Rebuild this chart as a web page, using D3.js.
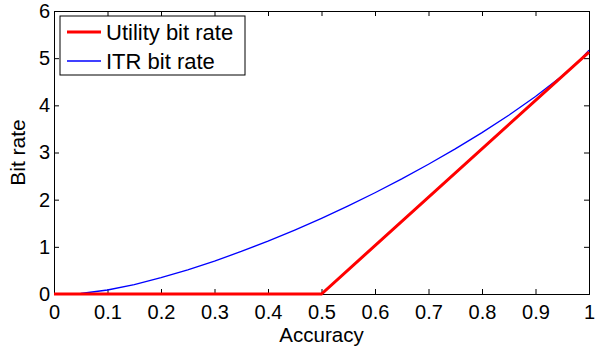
<!DOCTYPE html>
<html>
<head>
<meta charset="utf-8">
<script src="https://cdn.jsdelivr.net/npm/d3@7"></script>
<style>
  body { margin: 0; background: #fff; }
  text { font-family: "Liberation Sans", Arial, sans-serif; fill: #000; }
</style>
</head>
<body>
<script>
// chart data
var accuracy = [0.028, 0.05, 0.1, 0.15, 0.2, 0.25, 0.3, 0.35, 0.4, 0.45, 0.5,
  0.55, 0.6, 0.65, 0.7, 0.75, 0.8, 0.85, 0.9, 0.95, 0.98, 1];
var itrRate = [0, 0.011, 0.085, 0.2, 0.345, 0.512, 0.698, 0.902, 1.121, 1.356, 1.605,
  1.869, 2.147, 2.44, 2.75, 3.076, 3.422, 3.791, 4.188, 4.627, 4.926, 5.17];
var utilityAcc = [0, 0.5, 1];
var utilityRate = [0, 0, 5.13];
var xTicks = [0, 0.1, 0.2, 0.3, 0.4, 0.5, 0.6, 0.7, 0.8, 0.9, 1];
var yTicks = [0, 1, 2, 3, 4, 5, 6];
var seriesNames = ["Utility bit rate", "ITR bit rate"];
var seriesColors = ["#ff0000", "#0000ff"];

var svgWidth = 595, svgHeight = 351;
var margin = { top: 11, right: 6, bottom: 57, left: 54 };
var width = svgWidth - margin.left - margin.right;
var height = svgHeight - margin.top - margin.bottom;

var svg = d3.select("body").append("svg")
  .attr("width", svgWidth)
  .attr("height", svgHeight);

var chartGroup = svg.append("g")
  .attr("transform", `translate(${margin.left}, ${margin.top})`);

var x = d3.scaleLinear().domain([0, 1]).range([0, width]);
var y = d3.scaleLinear().domain([0, 6]).range([height, 0]);

// axes with inward ticks (matlab style box)
var fmt = d => String(d);
var bottomAxis = d3.axisBottom(x).tickValues(xTicks).tickSize(-5).tickPadding(11).tickFormat(fmt);
var topAxis = d3.axisTop(x).tickValues(xTicks).tickSize(-5).tickFormat("");
var leftAxis = d3.axisLeft(y).tickValues(yTicks).tickSize(-5).tickPadding(4).tickFormat(fmt);
var rightAxis = d3.axisRight(y).tickValues(yTicks).tickSize(-5).tickFormat("");

function styleAxis(g) {
  g.attr("font-size", null).attr("font-family", null);
  g.select(".domain").attr("stroke", "#000").attr("stroke-width", 1);
  g.selectAll(".tick line").attr("stroke", "#000");
  g.selectAll("text")
    .style("font-size", "20px")
    .style("font-family", "'Liberation Sans', Arial, sans-serif")
    .attr("fill", "#000");
}

chartGroup.append("g").attr("transform", `translate(0, ${height})`).call(bottomAxis).call(styleAxis);
chartGroup.append("g").call(topAxis).call(styleAxis);
chartGroup.append("g").call(leftAxis).call(styleAxis);
chartGroup.append("g").attr("transform", `translate(${width}, 0)`).call(rightAxis).call(styleAxis);

// lines
var line = d3.line().x(d => x(d[0])).y(d => y(d[1]));

chartGroup.append("path")
  .datum(accuracy.map((a, i) => [a, itrRate[i]]))
  .attr("d", line)
  .attr("fill", "none")
  .attr("stroke", seriesColors[1])
  .attr("stroke-width", 1.3);

chartGroup.append("path")
  .datum(utilityAcc.map((a, i) => [a, utilityRate[i]]))
  .attr("d", line)
  .attr("fill", "none")
  .attr("stroke", seriesColors[0])
  .attr("stroke-width", 3);

// axis labels
svg.append("text")
  .attr("x", margin.left + width / 2)
  .attr("y", 342)
  .attr("text-anchor", "middle")
  .style("font-size", "20.5px")
  .text("Accuracy");

svg.append("text")
  .attr("transform", `translate(25, ${margin.top + height / 2}) rotate(-90)`)
  .attr("text-anchor", "middle")
  .style("font-size", "21px")
  .text("Bit rate");

// legend
var legend = svg.append("g").attr("transform", "translate(60, 16)");
legend.append("rect")
  .attr("width", 185).attr("height", 59)
  .attr("fill", "#fff").attr("stroke", "#000").attr("stroke-width", 1);

seriesNames.forEach(function(name, i) {
  var rowY = 16 + i * 29;
  legend.append("line")
    .attr("x1", 7).attr("x2", 41)
    .attr("y1", rowY).attr("y2", rowY)
    .attr("stroke", seriesColors[i])
    .attr("stroke-width", i === 0 ? 3 : 1.3);
  legend.append("text")
    .attr("x", 46).attr("y", rowY + 7.5)
    .style("font-size", "22px")
    .text(name);
});
</script>
</body>
</html>
